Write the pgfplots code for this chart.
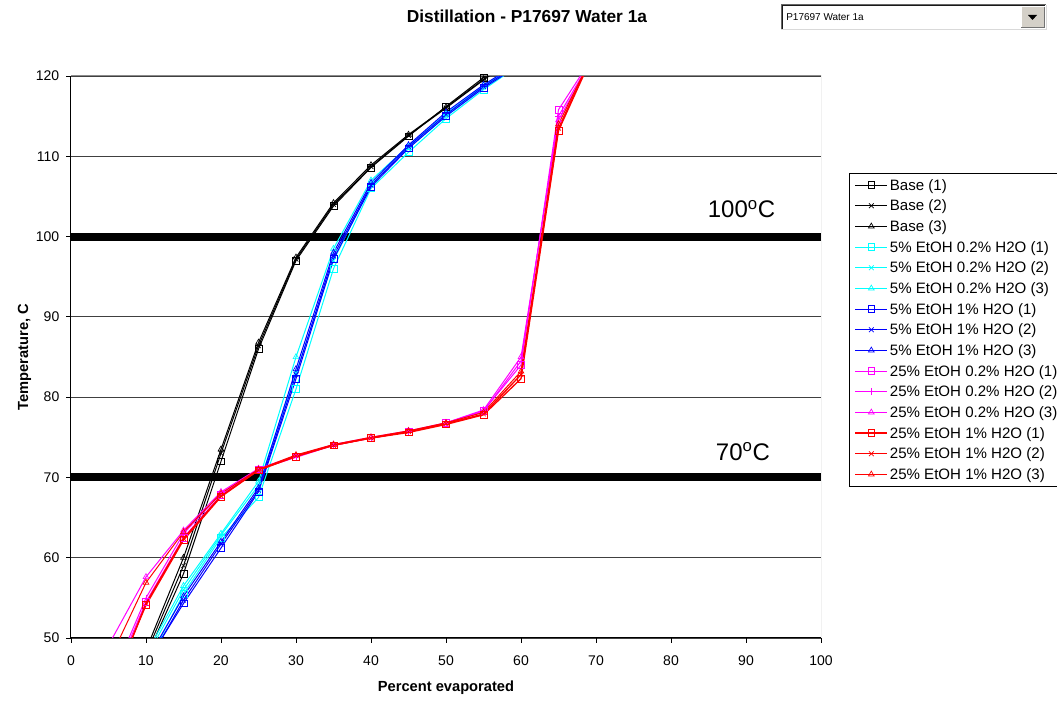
\documentclass[border=0pt]{standalone}
\usepackage{pgfplots}
\pgfplotsset{compat=1.18}
\usepackage{fontspec}
\setmainfont{Liberation Sans}
\setsansfont{Liberation Sans}
\definecolor{xlcyan}{RGB}{0,255,255}
\definecolor{xlblue}{RGB}{0,0,255}
\definecolor{xlmag}{RGB}{255,0,255}
\definecolor{xlred}{RGB}{255,0,0}
\definecolor{btngray}{RGB}{212,208,200}
\begin{document}
\begin{tikzpicture}
\path[use as bounding box] (0,0) rectangle (792.75pt,525pt);
\clip (0,0) rectangle (792.75pt,525pt);
\begin{axis}[
  at={(53.25pt,46.5pt)}, anchor=south west,
  scale only axis, width=562.5pt, height=421.5pt,
  xmin=0, xmax=100, ymin=50, ymax=120,
  xtick={0,10,...,100}, ytick={50,60,...,120},
  axis x line=bottom, axis y line=left,
  axis line style={-, black, line width=0.75pt},
  tick align=outside, major tick length=3.75pt,
  tick style={black, line width=0.6pt},
  ymajorgrids, grid style={black!75, line width=0.6pt},
  ticklabel style={font=\fontsize{10.5}{12}\selectfont},
  xticklabel style={yshift=-6pt},
  yticklabel style={xshift=-1.5pt},
  /pgf/number format/assume math mode=true,
  xlabel={\textbf{Percent evaporated}},
  ylabel={\textbf{Temperature, C}},
  xlabel style={font=\fontsize{11}{13}\selectfont, at={(axis description cs:0.5,-0.089)}, anchor=center},
  ylabel style={font=\fontsize{11}{13}\selectfont, at={(axis description cs:-0.062,0.5)}, anchor=center},
  title={\textbf{Distillation - P17697 Water 1a}},
  title style={font=\fontsize{13}{15}\selectfont, at={(axis description cs:0.608,1.092)}, anchor=center},
  legend cell align=left,
  legend style={at={(axis description cs:1.0373,0.8274)}, anchor=north west,
    draw=black, line width=0.6pt, font=\fontsize{11.3}{13}\selectfont,
    inner xsep=4pt, inner ysep=1pt, row sep=0pt,
    nodes={inner sep=1.5pt, text height=10pt, text depth=2.5pt}},
  legend image code/.code={\draw[mark repeat=2,mark phase=2,#1] plot coordinates {(0cm,0cm) (0.42cm,0cm) (0.84cm,0cm)};},
  every axis plot/.append style={line width=0.75pt, mark size=2.5pt},
]
% reference lines
\addplot[black, line width=6pt, forget plot] coordinates {(0,100) (100,100)};
\addplot[black, line width=6pt, forget plot] coordinates {(0,70) (100,70)};

% Base
\addplot[black, mark=square, mark options={solid, line width=0.5pt, fill=none}] coordinates {(10,47.5)(15,58)(20,72)(25,86)(30,97)(35,103.8)(40,108.6)(45,112.5)(50,116.2)(55,119.8)(60,123)};
\addlegendentry{Base (1)}
\addplot[black, mark=x, mark options={solid, line width=0.5pt}] coordinates {(10,48)(15,59)(20,73)(25,86.4)(30,97.2)(35,104)(40,108.7)(45,112.6)(50,116)(55,119.5)(60,122.8)};
\addlegendentry{Base (2)}
\addplot[black, mark=triangle, mark options={solid, line width=0.5pt, fill=none}] coordinates {(10,48.5)(15,60)(20,73.5)(25,86.8)(30,97.4)(35,104.2)(40,108.9)(45,112.7)(50,116.1)(55,119.6)(60,122.9)};
\addlegendentry{Base (3)}

% 5% EtOH 0.2% H2O
\addplot[xlcyan, mark=square, mark options={solid, line width=0.5pt, fill=none}] coordinates {(10,46.5)(15,55.5)(20,62.5)(25,67.5)(30,81)(35,96)(40,106)(45,110.5)(50,114.7)(55,118.3)(60,121.5)};
\addlegendentry{5\% EtOH 0.2\% H2O (1)}
\addplot[xlcyan, mark=x, mark options={solid, line width=0.5pt}] coordinates {(10,47.5)(15,56)(20,62.8)(25,69)(30,83)(35,97)(40,106.5)(45,111)(50,115)(55,118.6)(60,121.7)};
\addlegendentry{5\% EtOH 0.2\% H2O (2)}
\addplot[xlcyan, mark=triangle, mark options={solid, line width=0.5pt, fill=none}] coordinates {(10,48)(15,56.5)(20,63)(25,69.5)(30,85)(35,98.5)(40,107)(45,111.3)(50,115.3)(55,118.8)(60,121.9)};
\addlegendentry{5\% EtOH 0.2\% H2O (3)}

% 5% EtOH 1% H2O
\addplot[xlblue, mark=square, mark options={solid, line width=0.5pt, fill=none}] coordinates {(10,46.8)(15,54.3)(20,61.2)(25,68.2)(30,82.3)(35,97.2)(40,106.2)(45,111)(50,115)(55,118.5)(60,121.5)};
\addlegendentry{5\% EtOH 1\% H2O (1)}
\addplot[xlblue, mark=x, mark options={solid, line width=0.5pt}] coordinates {(10,46.5)(15,54.7)(20,61.7)(25,68.4)(30,82.8)(35,97.6)(40,106.4)(45,111.2)(50,115.2)(55,118.7)(60,121.6)};
\addlegendentry{5\% EtOH 1\% H2O (2)}
\addplot[xlblue, mark=triangle, mark options={solid, line width=0.5pt, fill=none}] coordinates {(10,47)(15,55.2)(20,62)(25,68.7)(30,83.5)(35,98)(40,106.7)(45,111.4)(50,115.5)(55,118.9)(60,121.8)};
\addlegendentry{5\% EtOH 1\% H2O (3)}

% 25% EtOH 0.2% H2O
\addplot[xlmag, mark=square, mark options={solid, line width=0.5pt, fill=none}] coordinates {(5,43.5)(10,54.5)(15,62.5)(20,67.8)(25,71)(30,72.5)(35,74)(40,74.9)(45,75.7)(50,76.8)(55,78.3)(60,84)(65,115.8)(70,123)};
\addlegendentry{25\% EtOH 0.2\% H2O (1)}
\addplot[xlmag, mark=+, mark options={solid, line width=0.5pt}] coordinates {(5,44)(10,55)(15,63)(20,68)(25,71)(30,72.6)(35,74)(40,74.9)(45,75.7)(50,76.7)(55,78.2)(60,84.5)(65,115)(70,123)};
\addlegendentry{25\% EtOH 0.2\% H2O (2)}
\addplot[xlmag, mark=triangle, mark options={solid, line width=0.5pt, fill=none}] coordinates {(5,49.1)(10,57.6)(15,63.4)(20,68.2)(25,71.1)(30,72.7)(35,74.1)(40,75)(45,75.8)(50,76.8)(55,78.4)(60,85)(65,114.5)(70,123)};
\addlegendentry{25\% EtOH 0.2\% H2O (3)}

% 25% EtOH 1% H2O
\addplot[xlred, line width=1pt, mark=square, mark options={solid, line width=0.5pt, fill=none}] coordinates {(5,43)(10,54.1)(15,62.2)(20,67.6)(25,70.9)(30,72.6)(35,74)(40,74.9)(45,75.6)(50,76.6)(55,77.8)(60,82.3)(65,113.2)(70,123.5)};
\addlegendentry{25\% EtOH 1\% H2O (1)}
\addplot[xlred, line width=1pt, mark=x, mark options={solid, line width=0.5pt}] coordinates {(5,42.5)(10,54.3)(15,62.4)(20,67.7)(25,70.9)(30,72.7)(35,74)(40,74.9)(45,75.7)(50,76.7)(55,77.9)(60,82.8)(65,113.5)(70,123.5)};
\addlegendentry{25\% EtOH 1\% H2O (2)}
\addplot[xlred, mark=triangle, mark options={solid, line width=0.5pt, fill=none}] coordinates {(5,47)(10,56.9)(15,63.2)(20,68)(25,71)(30,72.8)(35,74.1)(40,75)(45,75.8)(50,76.8)(55,78.1)(60,83.2)(65,114)(70,123.5)};
\addlegendentry{25\% EtOH 1\% H2O (3)}

\draw[black!45, line width=0.75pt] (rel axis cs:0,1) -- (rel axis cs:1,1) -- (rel axis cs:1,0);
\node[font=\fontsize{18}{20}\selectfont, anchor=center] at (axis cs:89.4,103.4) {100\textsuperscript{o}C};
\node[font=\fontsize{18}{20}\selectfont, anchor=center] at (axis cs:89.6,73.2) {70\textsuperscript{o}C};
\end{axis}
% drop-down box (in pixel units, y downward)
\begin{scope}[x=0.75pt, y=-0.75pt, yshift=525pt]
  \fill[white] (781,5) rectangle (1046,30);
  \draw[black!60, line width=0.75pt] (781,30) -- (781,5) -- (1046,5);
  \draw[black!90, line width=0.75pt] (782,29) -- (782,6) -- (1045,6);
  \draw[black!15, line width=0.75pt] (781,30) -- (1046,30) -- (1046,5);
  \fill[btngray] (1021,7) rectangle (1044,28);
  \draw[white, line width=0.75pt] (1021,28) -- (1021,7) -- (1044,7);
  \draw[black!55, line width=0.75pt] (1021,28) -- (1044,28) -- (1044,7);
  \fill[black] (1028,15) -- (1037,15) -- (1032.5,20) -- cycle;
  \node[anchor=west, font=\fontsize{7.5}{9}\selectfont, inner sep=0pt] at (786,17.5) {P17697 Water 1a};
\end{scope}
\end{tikzpicture}
\end{document}
